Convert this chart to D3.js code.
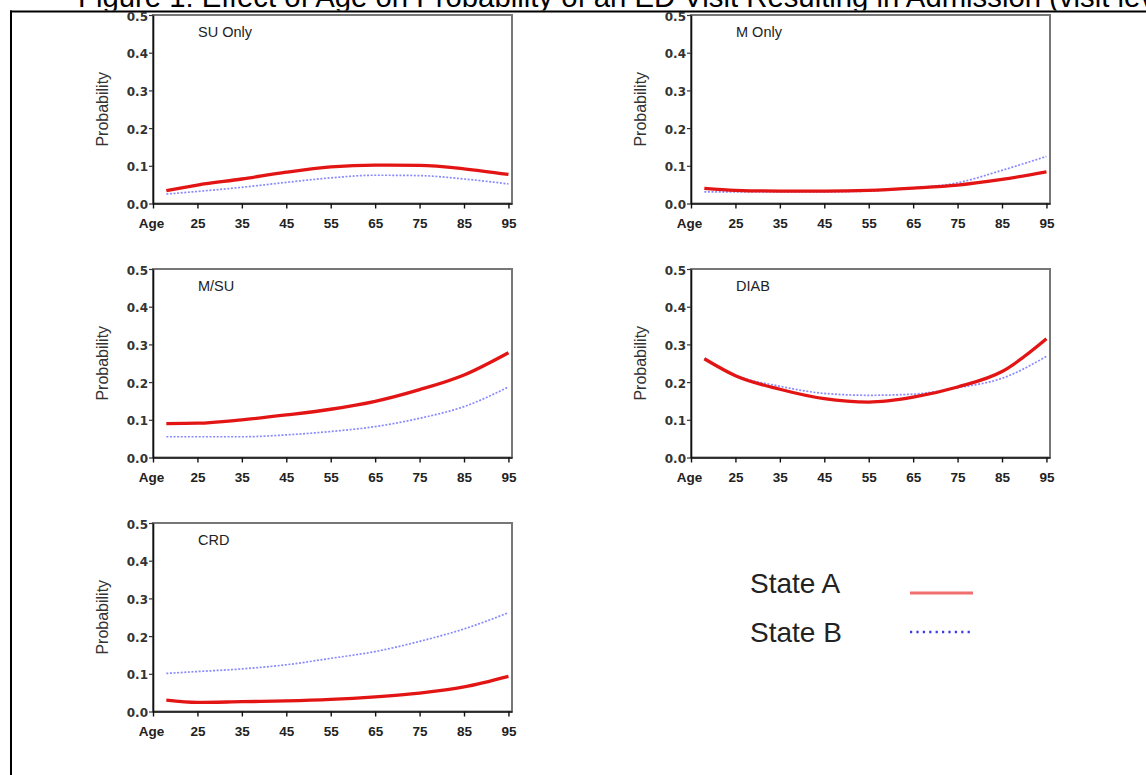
<!DOCTYPE html>
<html><head><meta charset="utf-8">
<script src="https://cdn.jsdelivr.net/npm/d3@7/dist/d3.min.js"></script>
<style>body{margin:0;background:#fff}</style>
</head><body><svg id="c" width="1146" height="775"></svg>
<script>
// ---- data ----
const titleText = "Figure 1: Effect of Age on Probability of an ED Visit Resulting in Admission (visit level)";
const ages = [18, 25, 35, 45, 55, 65, 75, 85, 95];
const panelNames = ["SU Only", "M Only", "M/SU", "DIAB", "CRD"];
const seriesNames = ["State A", "State B"];
const suOnlyA = [0.034, 0.049, 0.065, 0.083, 0.097, 0.102, 0.101, 0.092, 0.077];
const suOnlyB = [0.025, 0.032, 0.043, 0.056, 0.068, 0.075, 0.074, 0.065, 0.052];
const mOnlyA  = [0.040, 0.035, 0.033, 0.033, 0.035, 0.041, 0.049, 0.064, 0.084];
const mOnlyB  = [0.031, 0.031, 0.031, 0.031, 0.033, 0.041, 0.055, 0.088, 0.125];
const msuA    = [0.090, 0.091, 0.100, 0.113, 0.128, 0.149, 0.180, 0.219, 0.278];
const msuB    = [0.055, 0.055, 0.055, 0.060, 0.069, 0.082, 0.104, 0.135, 0.187];
const diabA   = [0.262, 0.217, 0.181, 0.156, 0.147, 0.160, 0.187, 0.228, 0.315];
const diabB   = [0.262, 0.218, 0.189, 0.170, 0.165, 0.168, 0.185, 0.210, 0.268];
const crdA    = [0.030, 0.024, 0.026, 0.028, 0.032, 0.039, 0.049, 0.065, 0.093];
const crdB    = [0.101, 0.106, 0.113, 0.124, 0.141, 0.159, 0.186, 0.219, 0.262];
const valuesA = [suOnlyA, mOnlyA, msuA, diabA, crdA];
const valuesB = [suOnlyB, mOnlyB, msuB, diabB, crdB];
const yTicks = [0, 0.1, 0.2, 0.3, 0.4, 0.5];
const yTickLabels = ["0.0", "0.1", "0.2", "0.3", "0.4", "0.5"];
const xTicks = [15, 25, 35, 45, 55, 65, 75, 85, 95];
const xTickLabels = ["Age", "25", "35", "45", "55", "65", "75", "85", "95"];

// ---- layout ----
const colX = [153, 691];
const rowY = [15, 269, 523];
const pw = 359, ph = 188.5;
const panelPos = [[0,0],[1,0],[0,1],[1,1],[0,2]];

const svg = d3.select("#c");
svg.append("rect").attr("width",1146).attr("height",775).attr("fill","#fff");

// title (partly cut off by top of page and hidden below the frame line)
svg.append("defs").append("clipPath").attr("id","tclip")
  .append("rect").attr("x",0).attr("y",0).attr("width",1146).attr("height",10.5);
svg.append("text").attr("x",78).attr("y",7).attr("clip-path","url(#tclip)")
  .attr("font-family","Liberation Sans, Arial, sans-serif")
  .attr("font-size",29.3).attr("fill","#000").text(titleText);
// outer frame
svg.append("line").attr("x1",10).attr("x2",1146).attr("y1",11.5).attr("y2",11.5).attr("stroke","#000").attr("stroke-width",2);
svg.append("line").attr("x1",11).attr("x2",11).attr("y1",10.5).attr("y2",775).attr("stroke","#000").attr("stroke-width",2);

const lineGen = (x, y) => d3.line().x((d,i)=>x(ages[i])).y(d=>y(d)).curve(d3.curveMonotoneX);

panelNames.forEach((name, k) => {
  const [c, r] = panelPos[k];
  const x0 = colX[c], y0 = rowY[r];
  const x = d3.scaleLinear().domain([15, 95.8]).range([x0, x0 + pw]);
  const y = d3.scaleLinear().domain([0, 0.5]).range([y0 + ph, y0]);
  const g = svg.append("g");
  g.append("rect").attr("x",x0).attr("y",y0).attr("width",pw).attr("height",ph)
    .attr("fill","none").attr("stroke","#777").attr("stroke-width",2);

  g.append("path").datum(valuesB[k]).attr("d", lineGen(x,y)).attr("fill","none")
    .attr("stroke","#8a8aff").attr("stroke-width",1.7).attr("stroke-dasharray","2,1.6");
  g.append("path").datum(valuesA[k]).attr("d", lineGen(x,y)).attr("fill","none")
    .attr("stroke","#e31414").attr("stroke-width",3.3);

  const ya = g.append("g").attr("transform",`translate(${x0},0)`)
    .call(d3.axisLeft(y).tickValues(yTicks).tickFormat((d,i)=>yTickLabels[i]).tickSize(4).tickSizeOuter(0).tickPadding(1));
  ya.select(".domain").attr("stroke","#111").attr("stroke-width",1.6);
  ya.selectAll(".tick line").attr("stroke","#333").attr("stroke-width",1.2);
  ya.selectAll("text").attr("font-family","DejaVu Sans, sans-serif").attr("font-size",12)
    .attr("font-weight","bold").attr("fill","#333").attr("dy","0.42em");

  const xa = g.append("g").attr("transform",`translate(0,${y0+ph})`)
    .call(d3.axisBottom(x).tickValues(xTicks).tickFormat((d,i)=>xTickLabels[i]).tickSize(5).tickSizeOuter(0).tickPadding(10));
  xa.select(".domain").attr("stroke","#111").attr("stroke-width",1.6);
  xa.selectAll(".tick line").attr("stroke","#111").attr("stroke-width",1.4);
  xa.selectAll("text").attr("font-family","Liberation Sans, Arial, sans-serif").attr("font-size",13.5)
    .attr("font-weight","bold").attr("fill","#222");
  xa.selectAll(".tick").filter((d,i)=>i===0).select("text").attr("dx",-2);

  g.append("text").attr("transform",`translate(${x0-45},${y0+ph/2}) rotate(-90)`)
    .attr("text-anchor","middle").attr("font-family","Liberation Sans, Arial, sans-serif")
    .attr("font-size",16).attr("fill","#333").text("Probability");
  g.append("text").attr("x",x0+45).attr("y",y0+21.5).attr("font-family","Liberation Sans, Arial, sans-serif")
    .attr("font-size",14.5).attr("fill","#222").text(name);
});

// legend
const legY = [593, 641.5];
seriesNames.forEach((s,i) => {
  svg.append("text").attr("x",750).attr("y",legY[i]).attr("font-family","Liberation Sans, Arial, sans-serif")
    .attr("font-size",28).attr("fill","#222").text(s);
});
svg.append("line").attr("x1",910).attr("x2",973).attr("y1",593).attr("y2",593)
  .attr("stroke","#f07070").attr("stroke-width",2.8);
svg.append("line").attr("x1",910).attr("x2",974).attr("y1",632).attr("y2",632)
  .attr("stroke","#3a3ae6").attr("stroke-width",2.4).attr("stroke-dasharray","2.2,4.2");
</script></body></html>
